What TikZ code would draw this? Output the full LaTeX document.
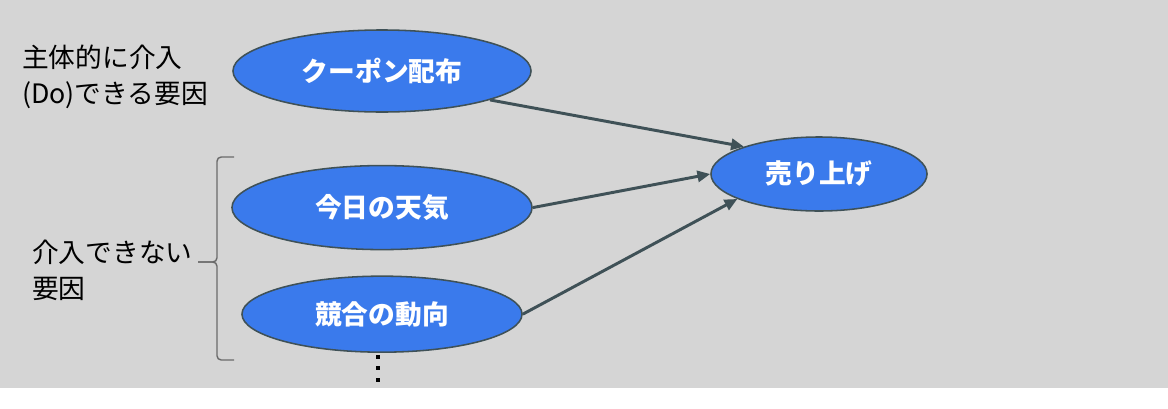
\documentclass[tikz,border=0pt]{standalone}
\usepackage{fontspec}
\setmainfont{Noto Sans CJK JP}
\usetikzlibrary{positioning, shapes.geometric, arrows.meta}
\definecolor{bggray}{HTML}{D5D5D5}
\definecolor{nodeblue}{HTML}{3A7AEC}
\definecolor{edgegray}{HTML}{3F5157}
\definecolor{bracegray}{HTML}{6A6A6A}

\begin{document}
\begin{tikzpicture}[
  x=0.025cm, y=-0.025cm,
  node distance=0.5cm,
  every node/.style={align=center, font=\fontsize{19pt}{25.5pt}\selectfont},
  cause/.style={ellipse, draw=edgegray, line width=1.1pt, fill=nodeblue, text=white, inner sep=0pt, minimum width=7.45cm, minimum height=2.05cm, font=\fontsize{19pt}{25.5pt}\selectfont\bfseries},
  note/.style={align=left, anchor=west, inner sep=0pt},
  link/.style={-{Triangle[length=0.32cm, width=0.28cm]}, line width=2.1pt, draw=edgegray}
]
\useasboundingbox (0,0) rectangle (1168,408);
\fill[bggray] (0,0) rectangle (1168,388);

% Cause nodes
\node[cause] (coupon) at (382,71) {クーポン配布};
\node[cause, minimum width=7.5cm, minimum height=2.1cm, below=1.3cm of coupon] (weather) {今日の天気};
\node[cause, minimum width=7cm, minimum height=1.9cm, below=0.625cm of weather] (rival) {競合の動向};
\node[cause, minimum width=5.4cm, minimum height=1.85cm] (sales) at (819,174) {売り上げ};

% Side notes
\node[note] (doable) at (22,77) {主体的に介入\\(Do)できる要因};
\node[note] (fixed) at (32,270) {介入できない\\要因};

% Bracket
\draw[bracegray, line width=1pt, rounded corners=3pt] (234,157) -- (217,157) -- (217,262) -- (198,262);
\draw[bracegray, line width=1pt, rounded corners=3pt] (198,262) -- (217,262) -- (217,360) -- (234,360);
\foreach \y in {357,368,380}
  \fill (376,\y-2) rectangle ++(4,4);

% Arrows
\draw[link] (coupon.-15) -- (sales.160);
\draw[link] (weather.east) -- (sales.west);
\draw[link] (rival.east) -- (sales.197);

\end{tikzpicture}
\end{document}
